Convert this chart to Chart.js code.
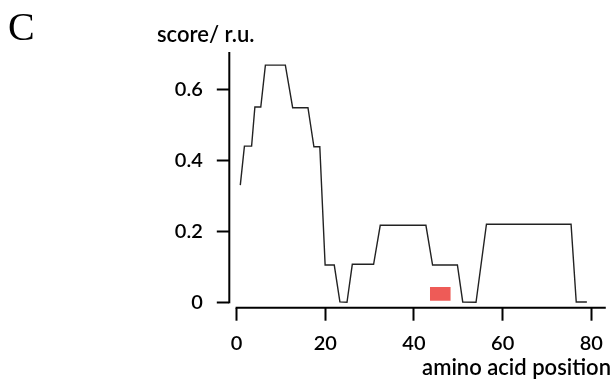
<!DOCTYPE html>
<html>
<head>
<meta charset="utf-8">
<script src="https://cdn.jsdelivr.net/npm/chart.js@4.4.1/dist/chart.umd.min.js"></script>
<style>
  html, body { margin: 0; padding: 0; background: #fff; }
  #wrap { width: 614px; height: 380px; position: relative; }
</style>
</head>
<body>
<div id="wrap"><canvas id="c" width="614" height="380"></canvas></div>
<script>
// ---- data ----
const positions = [0.84, 1.77, 3.39, 4.13, 5.46, 6.50, 11.0, 12.65, 16.1, 17.44, 18.77, 19.97, 22.03, 23.3, 24.9, 26.1, 30.9, 32.4, 42.7, 44.2, 49.8, 51.0, 54.0, 56.35, 75.43, 76.6, 79.0];
const scores    = [0.33, 0.44, 0.44, 0.55, 0.55, 0.668, 0.668, 0.548, 0.548, 0.438, 0.438, 0.105, 0.105, 0.001, 0.0, 0.107, 0.107, 0.217, 0.217, 0.105, 0.105, 0.001, 0.0, 0.22, 0.22, 0.001, 0.001];
const boxX = [43.6, 48.3];
const boxY = [0.0045, 0.043];
const xTicks = [0, 20, 40, 60, 80];
const yTicks = [0, 0.2, 0.4, 0.6];
const yTitle = "score/ r.u.";
const xTitle = "amino acid position";
const panelLabel = "C";

const lineData = positions.map((x, i) => ({ x: x, y: scores[i] }));
const boxTop = boxX.map(x => ({ x: x, y: boxY[1] }));
const boxBottom = boxX.map(x => ({ x: x, y: boxY[0] }));

const FONT = "Lato, 'Open Sans', sans-serif";

const axesAndText = {
  id: 'axesAndText',
  afterDraw(chart) {
    const ctx = chart.ctx;
    const ca = chart.chartArea;
    const xs = chart.scales.x, ys = chart.scales.y;
    ctx.save();
    ctx.strokeStyle = '#000';
    ctx.lineWidth = 2;
    ctx.lineCap = 'butt';
    // y axis line: from value 0 to top
    ctx.beginPath();
    ctx.moveTo(ca.left, ys.getPixelForValue(0) + 1);
    ctx.lineTo(ca.left, ca.top);
    ctx.stroke();
    // x axis line: from value 0 to right
    ctx.beginPath();
    ctx.moveTo(xs.getPixelForValue(0) - 1, ca.bottom);
    ctx.lineTo(ca.right, ca.bottom);
    ctx.stroke();
    // texts
    ctx.fillStyle = '#000';
    ctx.textBaseline = 'alphabetic';
    ctx.textAlign = 'left';
    ctx.font = "40px 'Liberation Serif', 'DejaVu Serif', serif";
    ctx.fillText(panelLabel, 8, 40);
    ctx.font = "600 22px " + FONT;
    ctx.fillText(yTitle, 157, 42);
    ctx.textAlign = 'right';
    ctx.font = "600 22px " + FONT;
    ctx.fillText(xTitle, 611, 375);
    ctx.restore();
  }
};

new Chart(document.getElementById('c'), {
  type: 'line',
  data: {
    datasets: [
      {
        data: boxTop, borderWidth: 0, borderColor: 'rgba(0,0,0,0)',
        backgroundColor: '#ee5b57', fill: '+1', pointRadius: 0, order: 2
      },
      {
        data: boxBottom, borderWidth: 0, borderColor: 'rgba(0,0,0,0)',
        fill: false, pointRadius: 0, order: 2
      },
      {
        data: lineData, borderColor: '#222', borderWidth: 1.4,
        pointRadius: 0, fill: false, tension: 0, order: 1
      }
    ]
  },
  options: {
    responsive: false,
    animation: false,
    devicePixelRatio: 1,
    layout: { padding: { top: 52, right: 2, left: 0, bottom: 0 } },
    plugins: { legend: { display: false }, tooltip: { enabled: false }, title: { display: false } },
    scales: {
      x: {
        type: 'linear',
        min: -1.64,
        max: 83.26,
        afterFit(scale) { scale.height = 72.3; },
        afterBuildTicks(scale) { scale.ticks = xTicks.map(v => ({ value: v })); },
        border: { display: false },
        grid: { display: true, drawOnChartArea: false, drawTicks: true, tickLength: 13, tickColor: '#000', tickWidth: 2 },
        ticks: { color: '#000', font: { family: FONT, size: 20, weight: 600 }, padding: 11, maxRotation: 0, autoSkip: false }
      },
      y: {
        type: 'linear',
        min: -0.0152,
        max: 0.705,
        afterFit(scale) { scale.width = 229.3; },
        afterBuildTicks(scale) { scale.ticks = yTicks.map(v => ({ value: v })); },
        border: { display: false },
        grid: { display: true, drawOnChartArea: false, drawTicks: true, tickLength: 12.5, tickColor: '#000', tickWidth: 2 },
        ticks: { color: '#000', font: { family: FONT, size: 20, weight: 600 }, padding: 14, autoSkip: false }
      }
    }
  },
  plugins: [axesAndText]
});
</script>
</body>
</html>
